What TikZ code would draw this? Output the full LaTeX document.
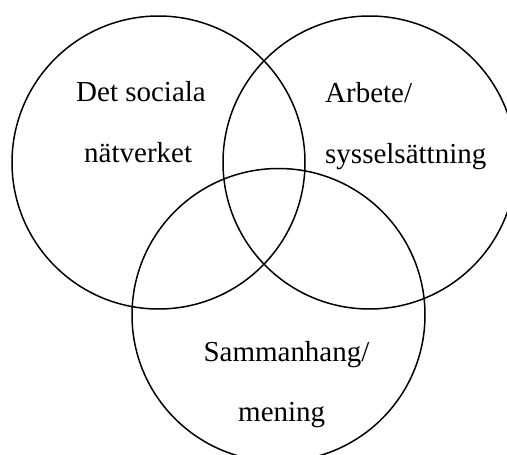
\documentclass[tikz,border=0pt]{standalone}
\usepackage{fontspec}
\setmainfont{Liberation Serif}
\begin{document}
\begin{tikzpicture}[x=1pt,y=-1pt,
  ring/.style={draw=black,line width=1.5pt,circle,minimum size=293pt,inner sep=0pt},
  lbl/.style={anchor=base west,inner sep=0pt,font=\fontsize{29}{34}\selectfont}]
\useasboundingbox (0,0) rectangle (507,455);
\clip (0,0) rectangle (507,455);
\node[ring] (social) at (158.5,162.5) {};
\node[ring] (arbete) at (369.5,162.5) {};
\node[ring] (samman) at (278.5,315) {};
\node[lbl] (t1) at (76,101.7) {Det sociala};
\node[lbl] (t2) at (84,162.5) {nätverket};
\node[lbl] (t3) at (325,102.3) {Arbete/};
\node[lbl] (t4) at (325,163) {sysselsättning};
\node[lbl] (t5) at (203.3,361) {Sammanhang/};
\node[lbl] (t6) at (238,421) {mening};
\end{tikzpicture}
\end{document}
